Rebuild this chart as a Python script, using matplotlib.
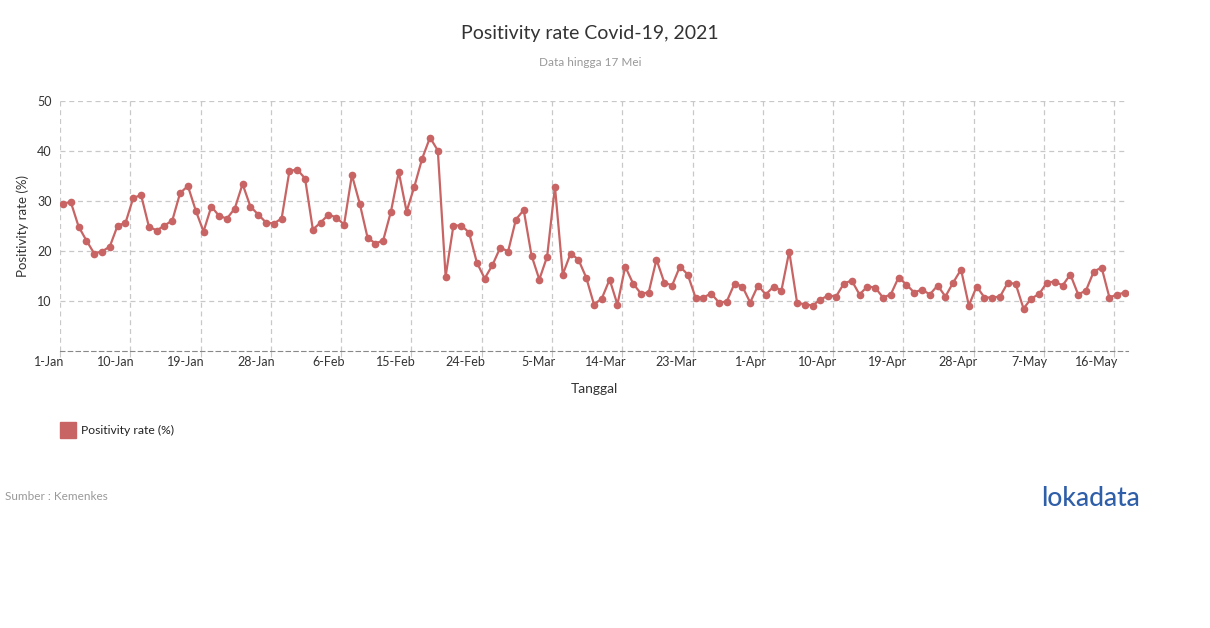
import numpy as np
import pandas as pd
import matplotlib
matplotlib.use('Agg')
import matplotlib.pyplot as plt
import matplotlib.transforms as mtransforms

plt.rcParams['font.family'] = ['Lato', 'DejaVu Sans']

# Daily positivity rate, 1 Jan - 17 May 2021
dates = pd.date_range('2021-01-01', '2021-05-17', freq='D')
rate = [
    29.5, 29.8, 24.9, 22.1, 19.5, 19.9, 20.9, 25.1, 25.6, 30.6,
    31.2, 24.9, 24.1, 25.1, 26.1, 31.6, 33.0, 28.1, 23.9, 28.9,
    27.0, 26.5, 28.5, 33.4, 28.9, 27.3, 25.7, 25.5, 26.5, 36.0,
    36.3, 34.5, 24.3, 25.7, 27.3, 26.7, 25.3, 35.2, 29.5, 22.7,
    21.5, 22.1, 27.9, 35.8, 27.9, 32.9, 38.5, 42.7, 40.1, 14.9,
    25.1, 25.1, 23.7, 17.7, 14.5, 17.2, 20.7, 19.9, 26.3, 28.2,
    19.1, 14.3, 18.9, 32.9, 15.3, 19.5, 18.3, 14.7, 9.3, 10.5,
    14.3, 9.3, 16.9, 13.5, 11.5, 11.7, 18.3, 13.7, 13.1, 16.9,
    15.3, 10.7, 10.7, 11.5, 9.7, 9.9, 13.5, 12.9, 9.7, 13.1,
    11.3, 12.9, 12.1, 19.9, 9.7, 9.3, 9.1, 10.3, 11.1, 10.9,
    13.5, 14.1, 11.3, 12.9, 12.7, 10.7, 11.3, 14.7, 13.3, 11.7,
    12.3, 11.3, 13.1, 10.9, 13.7, 16.3, 9.1, 12.9, 10.7, 10.7,
    10.9, 13.7, 13.4, 8.5, 10.5, 11.4, 13.7, 13.9, 13.1, 15.3,
    11.3, 12.1, 15.9, 16.7, 10.7, 11.3, 11.7,
]
tick_labels = [f"{d.day}-{d.strftime('%b')}" for d in dates[::9]]

red = '#c86464'
grid_col = '#c8c8c8'

fig = plt.figure(figsize=(12.1, 6.28), dpi=100)
ax = fig.add_axes([60 / 1210, 1 - 351 / 628, 1068 / 1210, 250 / 628])

x = np.arange(len(rate))
ax.plot(x, rate, color=red, lw=1.6, marker='o', ms=4.5, zorder=3)

shift = 0.38
tick_pos = np.arange(0, len(rate), 9) - shift
ax.set_xlim(-shift, len(rate) - 1 + shift)
ax.set_ylim(0, 50)
ax.set_yticks([10, 20, 30, 40, 50])
ax.set_xticks(tick_pos)
ax.set_xticklabels([])

# x tick labels, right-aligned just past each gridline
off = mtransforms.ScaledTranslation(4 / 100, -5 / 100, fig.dpi_scale_trans)
for p, lab in zip(tick_pos, tick_labels):
    ax.text(p, 0, lab, transform=ax.get_xaxis_transform() + off, ha='right', va='top',
            fontsize=9, color='#333333')

ax.grid(True, color=grid_col, ls=(0, (4, 3)), lw=0.9)
for s in ['top', 'right', 'left']:
    ax.spines[s].set_visible(False)
ax.spines['bottom'].set_color('#888888')
ax.spines['bottom'].set_linestyle((0, (4, 3)))
ax.tick_params(axis='y', length=0, labelsize=9, colors='#333333', pad=6)
ax.tick_params(axis='x', length=4, color=grid_col, pad=2)

ax.set_xlabel('Tanggal', fontsize=10, color='#333333', labelpad=17)
ax.set_ylabel('Positivity rate (%)', fontsize=9.5, color='#333333', labelpad=6)

fig.text(590 / 1210, 1 - 33 / 628, 'Positivity rate Covid-19, 2021', ha='center', va='center',
         fontsize=14, color='#333333')
fig.text(590 / 1210, 1 - 62 / 628, 'Data hingga 17 Mei', ha='center', va='center',
         fontsize=8.5, color='#999999')

# legend
fig.patches.append(plt.Rectangle((60 / 1210, 1 - 438 / 628), 16 / 1210, 16 / 628,
                                 transform=fig.transFigure, color=red))
fig.text(81 / 1210, 1 - 430 / 628, 'Positivity rate (%)', ha='left', va='center',
         fontsize=8.7, color='#222222')

fig.text(5 / 1210, 1 - 497 / 628, 'Sumber : Kemenkes', ha='left', va='center',
         fontsize=8.5, color='#999999')
fig.text(1140 / 1210, 1 - 498 / 628, 'lokadata', ha='right', va='center',
         fontsize=19, color='#2f5fa8', fontweight='medium')

fig.savefig('out.png', dpi=100)
